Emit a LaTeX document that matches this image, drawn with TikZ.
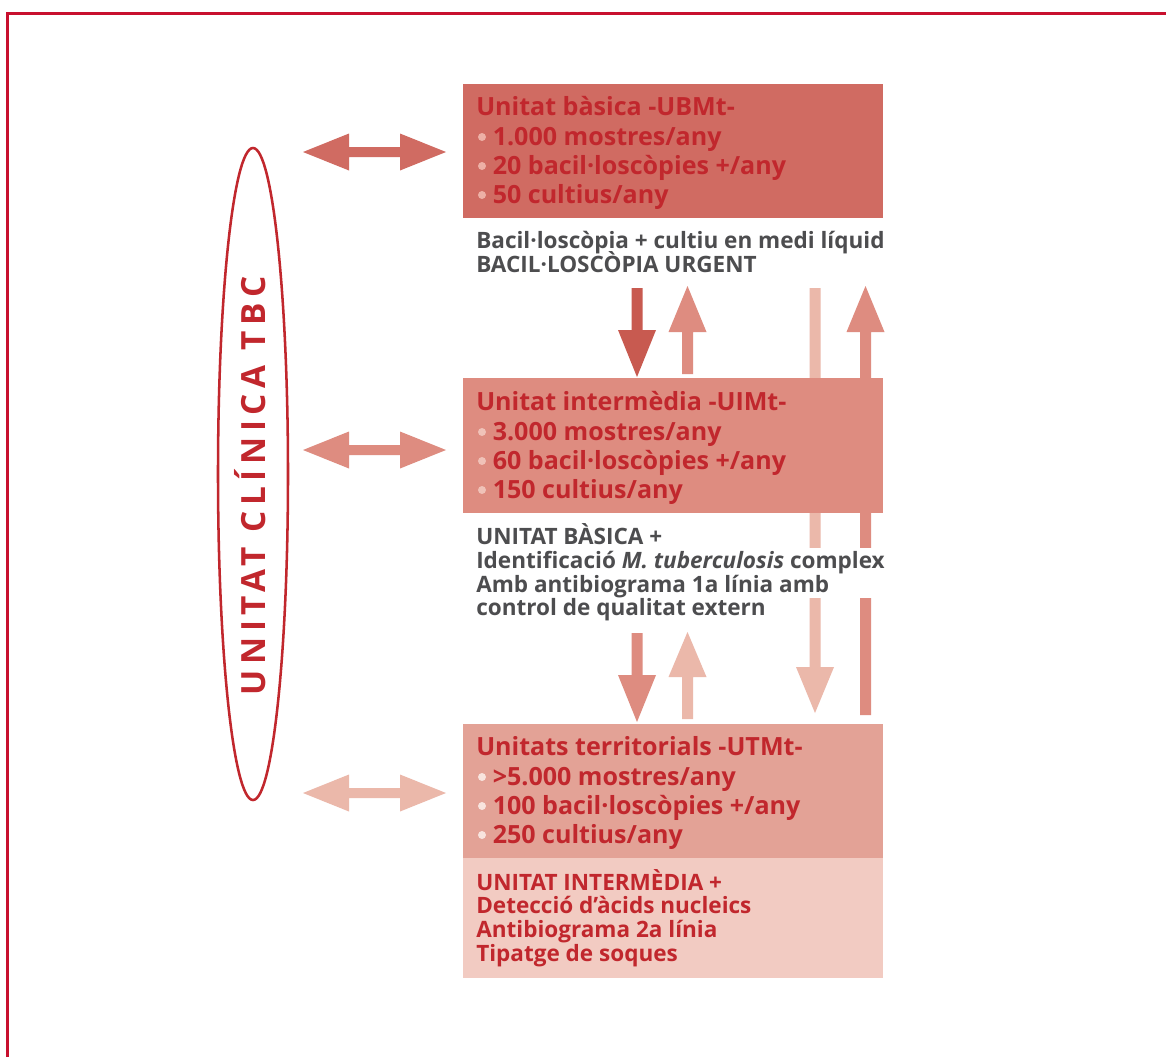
\documentclass[tikz,border=0pt]{standalone}
\usepackage{fontspec}
\setmainfont{Open Sans}
\usetikzlibrary{shapes.geometric}
\definecolor{framec}{HTML}{C8102E}
\definecolor{tred}{HTML}{C1272D}
\definecolor{tgray}{HTML}{4D4D4F}
\definecolor{boxa}{HTML}{D06B62}
\definecolor{boxb}{HTML}{DE8C80}
\definecolor{boxc}{HTML}{E3A296}
\definecolor{boxd}{HTML}{F2CBC2}
\definecolor{arrdark}{HTML}{C85A50}
\definecolor{arrlight}{HTML}{EBB8AA}
\definecolor{dota}{HTML}{EDB0A6}
\definecolor{dotb}{HTML}{F0C2B8}
\definecolor{dotc}{HTML}{F8E4DE}
\newcommand\myVArrow[5]{% x, start, headbase, tip, colour
  \fill[#5] (#1-5.5,#2) -- (#1-5.5,#3) -- (#1-19,#3) -- (#1,#4) -- (#1+19,#3) -- (#1+5.5,#3) -- (#1+5.5,#2) -- cycle;}
\newcommand\myHArrow[2]{% y, colour
  \fill[#2] (303,#1) -- (349,#1-18.5) -- (349,#1-5) -- (400,#1-5) -- (400,#1-18.5) -- (446,#1) -- (400,#1+18.5) -- (400,#1+5) -- (349,#1+5) -- (349,#1+18.5) -- cycle;}
\begin{document}
\begin{tikzpicture}[x=0.75pt,y=-0.75pt,
  boxnode/.style={anchor=north west, inner sep=0, outer sep=0, minimum width=315pt},
  ttl/.style={anchor=base west, inner sep=0, text=tred, font=\fontsize{18.8}{22}\selectfont\bfseries},
  gtxt/.style={anchor=base west, inner sep=0, text=tgray, font=\fontsize{16.9}{20}\selectfont\bfseries},
  rtxt/.style={gtxt, text=tred}]
\useasboundingbox (0,0) rectangle (1166,1057);
\fill[white] (0,0) rectangle (1166,1057);
% frame
\draw[framec, line width=2.25pt] (7,1057) -- (7,13.5) -- (1166,13.5);
% long vertical bars (behind boxes)
\myVArrow{815}{288}{667}{713}{arrlight}
\myVArrow{865.5}{715}{332}{286}{boxb}
% boxes
\node[boxnode, fill=boxa, minimum height=100.5pt] (ubmt) at (463,84) {};
\node[boxnode, fill=boxb, minimum height=101.25pt] (uimt) at (463,378) {};
\node[boxnode, fill=boxc, minimum height=100.5pt] (utmt) at (463,724) {};
\node[boxnode, fill=boxd, minimum height=90pt] (utmtx) at (463,858) {};
\fill[white] (463,548) rectangle (905,598);
% short vertical arrows
\myVArrow{637}{288}{330}{377}{arrdark}
\myVArrow{687.5}{374}{332}{286}{boxb}
\myVArrow{637}{633}{675}{722}{boxb}
\myVArrow{687.5}{719}{677}{632}{arrlight}
% horizontal double arrows
\myHArrow{152}{boxa}
\myHArrow{450}{boxb}
\myHArrow{793}{arrlight}
% clinic ellipse
\node[draw=tred, line width=1.9pt, ellipse, minimum width=52.5pt, minimum height=489pt, inner sep=0] (clinic) at (253,474) {};
\node[rotate=90, text=tred, font=\fontsize{25}{30}\selectfont\bfseries\addfontfeature{LetterSpace=17}, inner sep=0] (clinictext) at (250,486) {UNITAT CLÍNICA TBC};
% top box text
\node[ttl] (a0) at (476,115) {Unitat bàsica -UBMt-};
\node[ttl] (a1) at (492.5,145) {1.000 mostres/any};
\node[ttl] (a2) at (492.5,174) {20 bacil·loscòpies +/any};
\node[ttl] (a3) at (492.5,203) {50 cultius/any};
\foreach \yy in {137,166,195} \fill[dota] (482,\yy) circle[radius=4];
\node[gtxt] (ag1) at (476,248) {Bacil·loscòpia + cultiu en medi líquid};
\node[gtxt] (ag2) at (476,272.5) {BACIL·LOSCÒPIA URGENT};
% middle box text
\node[ttl] (b0) at (476,410) {Unitat intermèdia -UIMt-};
\node[ttl] (b1) at (492.5,440) {3.000 mostres/any};
\node[ttl] (b2) at (492.5,469) {60 bacil·loscòpies +/any};
\node[ttl] (b3) at (492.5,498) {150 cultius/any};
\foreach \yy in {432,461,490} \fill[dotb] (482,\yy) circle[radius=4];
\node[gtxt] (bg1) at (476,544) {UNITAT BÀSICA +};
\node[gtxt] (bg2) at (476,568) {Identificació \textit{M. tuberculosis} complex};
\node[gtxt] (bg3) at (476,592) {Amb antibiograma 1a línia amb};
\node[gtxt] (bg4) at (476,615) {control de qualitat extern};
% bottom box text
\node[ttl] (c0) at (476,755) {Unitats territorials -UTMt-};
\node[ttl] (c1) at (492.5,785) {>5.000 mostres/any};
\node[ttl] (c2) at (492.5,814) {100 bacil·loscòpies +/any};
\node[ttl] (c3) at (492.5,843) {250 cultius/any};
\foreach \yy in {777,806,835} \fill[dotc] (482,\yy) circle[radius=4];
\node[rtxt] (cg1) at (476,890) {UNITAT INTERMÈDIA +};
\node[rtxt] (cg2) at (476,913.5) {Detecció d’àcids nucleics};
\node[rtxt] (cg3) at (476,937) {Antibiograma 2a línia};
\node[rtxt] (cg4) at (476,961) {Tipatge de soques};
\end{tikzpicture}
\end{document}
